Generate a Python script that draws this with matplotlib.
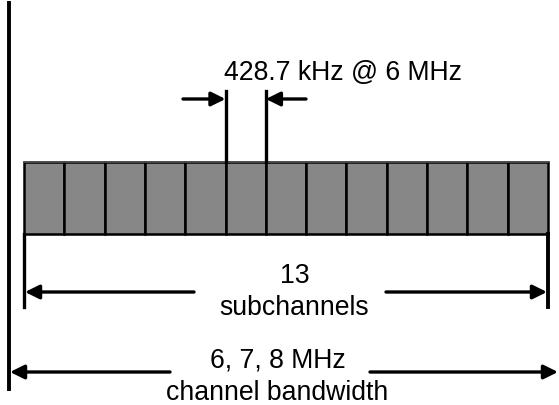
import numpy as np
import matplotlib
matplotlib.use("Agg")
import matplotlib.pyplot as plt

# ---- data ----
n_subchannels = 13
subchannel_label = "428.7 kHz @ 6 MHz"
count_labels = ["13", "subchannels"]
bandwidth_labels = ["6, 7, 8 MHz", "channel bandwidth"]
highlight_index = 5  # subchannel marked by the width arrows

plt.rcParams['font.family'] = ['Liberation Sans', 'DejaVu Sans']

fig = plt.figure(figsize=(5.59, 4.06), dpi=100)
ax = fig.add_axes([0, 0, 1, 1])
ax.set_xlim(0, 559)
ax.set_ylim(406, 0)
ax.axis('off')

# layout (pixel-like coordinates)
x0, x1 = 24, 548
ytop, ybot = 163, 235
w = (x1 - x0) / n_subchannels
fs = 19.2
lw = 2.4

# subchannel cells
idx = np.arange(n_subchannels)
ax.bar(x0 + idx * w, ybot - ytop, bottom=ytop, width=w, align='edge',
       color='#878787', edgecolor='black', linewidth=1.8, zorder=2)
ax.plot([x0, x1], [ytop, ytop], color='#555555', lw=1.2, zorder=3)

def arrow(xs, xe, y):
    ax.annotate('', xy=(xe, y), xytext=(xs, y),
                arrowprops=dict(arrowstyle='-|>,head_length=0.85,head_width=0.42',
                                lw=lw, color='black', shrinkA=0, shrinkB=0,
                                mutation_scale=10))

# channel bandwidth
ax.plot([9, 9], [4, 390], color='black', lw=lw + 0.4)
arrow(170, 10, 373)
arrow(370, 558, 373)
ax.text(277.5, 368, bandwidth_labels[0], ha='center', va='baseline', fontsize=fs)
ax.text(277.5, 400, bandwidth_labels[1], ha='center', va='baseline', fontsize=fs)

# subchannels span
ax.plot([x0, x0], [ybot, 308], color='black', lw=lw)
ax.plot([x1, x1], [ybot, 308], color='black', lw=lw + 0.4)
arrow(194, x0 + 1, 293)
arrow(386, x1 - 1, 293)
ax.text(294.5, 283, count_labels[0], ha='center', va='baseline', fontsize=fs)
ax.text(294, 315, count_labels[1], ha='center', va='baseline', fontsize=fs)

# single subchannel width
xa = x0 + highlight_index * w
xb = xa + w
ax.plot([xa, xa], [92, ytop], color='black', lw=lw, zorder=4)
ax.plot([xb, xb], [92, ytop], color='black', lw=lw, zorder=4)
arrow(183, xa, 100)
arrow(306, xb, 100)
ax.text(343.5, 80, subchannel_label, ha='center', va='baseline', fontsize=fs)

fig.savefig('out.png', dpi=100)
